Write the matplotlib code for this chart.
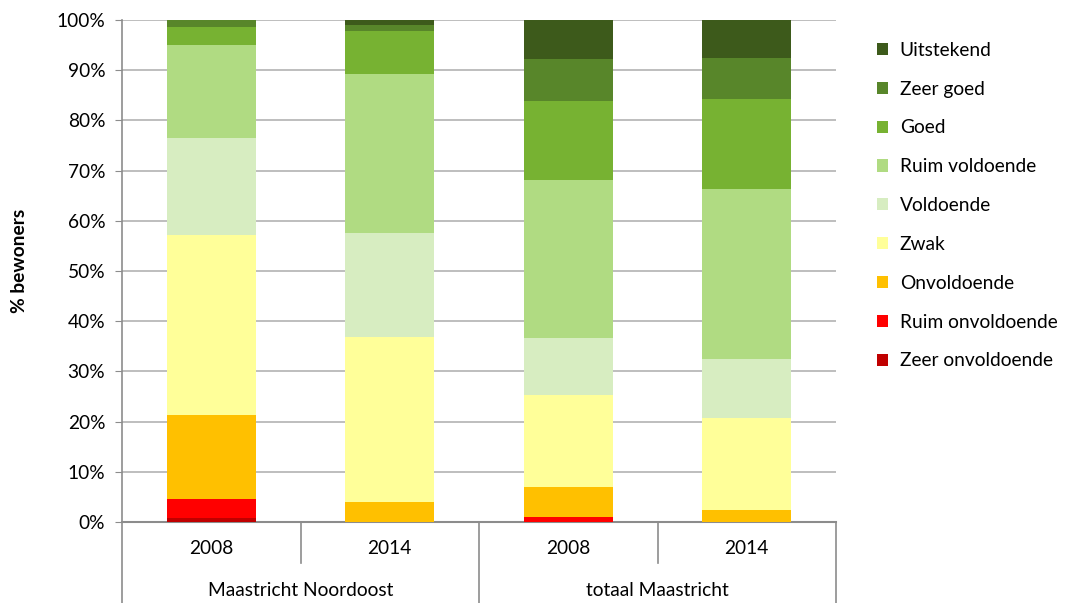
import numpy as np
import matplotlib
matplotlib.use('Agg')
import matplotlib.pyplot as plt
from matplotlib.patches import Patch
from matplotlib.transforms import blended_transform_factory

plt.rcParams['font.family'] = ['Lato', 'DejaVu Sans']

# Bars: Maastricht Noordoost 2008/2014, totaal Maastricht 2008/2014
years = ['2008', '2014', '2008', '2014']
groups = ['Maastricht Noordoost', 'totaal Maastricht']

# Shares per rating (percent), bottom to top
zeer_onvoldoende = [0.8, 0.0, 0.0, 0.0]
ruim_onvoldoende = [3.8, 0.0, 0.9, 0.0]
onvoldoende = [16.8, 3.9, 6.1, 2.4]
zwak = [35.8, 33.0, 18.3, 18.4]
voldoende = [19.3, 20.7, 11.4, 11.6]
ruim_voldoende = [18.5, 31.7, 31.4, 33.9]
goed = [3.7, 8.5, 15.8, 18.0]
zeer_goed = [1.3, 1.3, 8.3, 8.1]
uitstekend = [0.0, 0.9, 7.8, 7.6]

series = [
    ('Zeer onvoldoende', zeer_onvoldoende, '#c00000'),
    ('Ruim onvoldoende', ruim_onvoldoende, '#ff0000'),
    ('Onvoldoende', onvoldoende, '#ffc000'),
    ('Zwak', zwak, '#ffff99'),
    ('Voldoende', voldoende, '#d7edc1'),
    ('Ruim voldoende', ruim_voldoende, '#b0db82'),
    ('Goed', goed, '#77b232'),
    ('Zeer goed', zeer_goed, '#58862a'),
    ('Uitstekend', uitstekend, '#3d5a1b'),
]

FS = 13.8

fig = plt.figure(figsize=(10.65, 6.03), dpi=100)
ax = fig.add_axes([122 / 1065, 81 / 603, 714 / 1065, 502 / 603])

x = np.arange(len(years))
bottom = np.zeros(len(years))
for name, vals, col in series:
    vals = np.array(vals)
    ax.bar(x, vals, width=0.5, bottom=bottom, color=col, edgecolor='none',
           label=name, zorder=3)
    bottom += vals

ax.set_xlim(-0.5, 3.5)
ax.set_ylim(0, 100)
ax.set_yticks(np.arange(0, 101, 10))
ax.set_yticklabels([f'{v}%' for v in range(0, 101, 10)], fontsize=FS)
ax.yaxis.grid(True, color='#b3b3b3', linewidth=1.2, zorder=0)
ax.set_axisbelow(True)
ax.tick_params(axis='y', length=5, color='#8c8c8c', pad=7)
ax.tick_params(axis='x', length=0, labelbottom=False)
for s in ['top', 'right']:
    ax.spines[s].set_visible(False)
ax.spines['left'].set_color('#8c8c8c')
ax.spines['bottom'].set_color('#8c8c8c')
ax.spines['left'].set_linewidth(1.2)
ax.spines['bottom'].set_linewidth(1.5)
ax.set_ylabel('% bewoners', fontsize=FS, fontweight='bold')
ax.yaxis.set_label_coords(-94 / 714, 0.52)

# Two-level category axis below the plot
tr = blended_transform_factory(ax.transData, fig.transFigure)
y0 = 81 / 603
for xd in [-0.5, 1.5, 3.5]:
    ax.plot([xd, xd], [y0, 0], transform=tr, color='#8c8c8c', lw=1.2, clip_on=False)
for xd in [0.5, 2.5]:
    ax.plot([xd, xd], [y0, 40 / 603], transform=tr, color='#8c8c8c', lw=1.2, clip_on=False)
for xi, yr in zip(x, years):
    fig.text(0, 0, yr, transform=tr, fontsize=FS, ha='center', va='center').set_position((xi, 54 / 603))
for gi, g in enumerate(groups):
    fig.text(0, 0, g, transform=tr, fontsize=FS, ha='center', va='center').set_position((0.5 + 2 * gi, 13 / 603))

handles = [Patch(facecolor=c, edgecolor='none', label=n) for n, _, c in series][::-1]
fig.legend(handles=handles, loc='upper left', bbox_to_anchor=(869 / 1065, 1 - 34 / 603),
           frameon=False, fontsize=FS, handlelength=0.6, handleheight=0.6,
           handletextpad=0.6, labelspacing=1.14, borderaxespad=0)

fig.savefig('out.png', dpi=100)
